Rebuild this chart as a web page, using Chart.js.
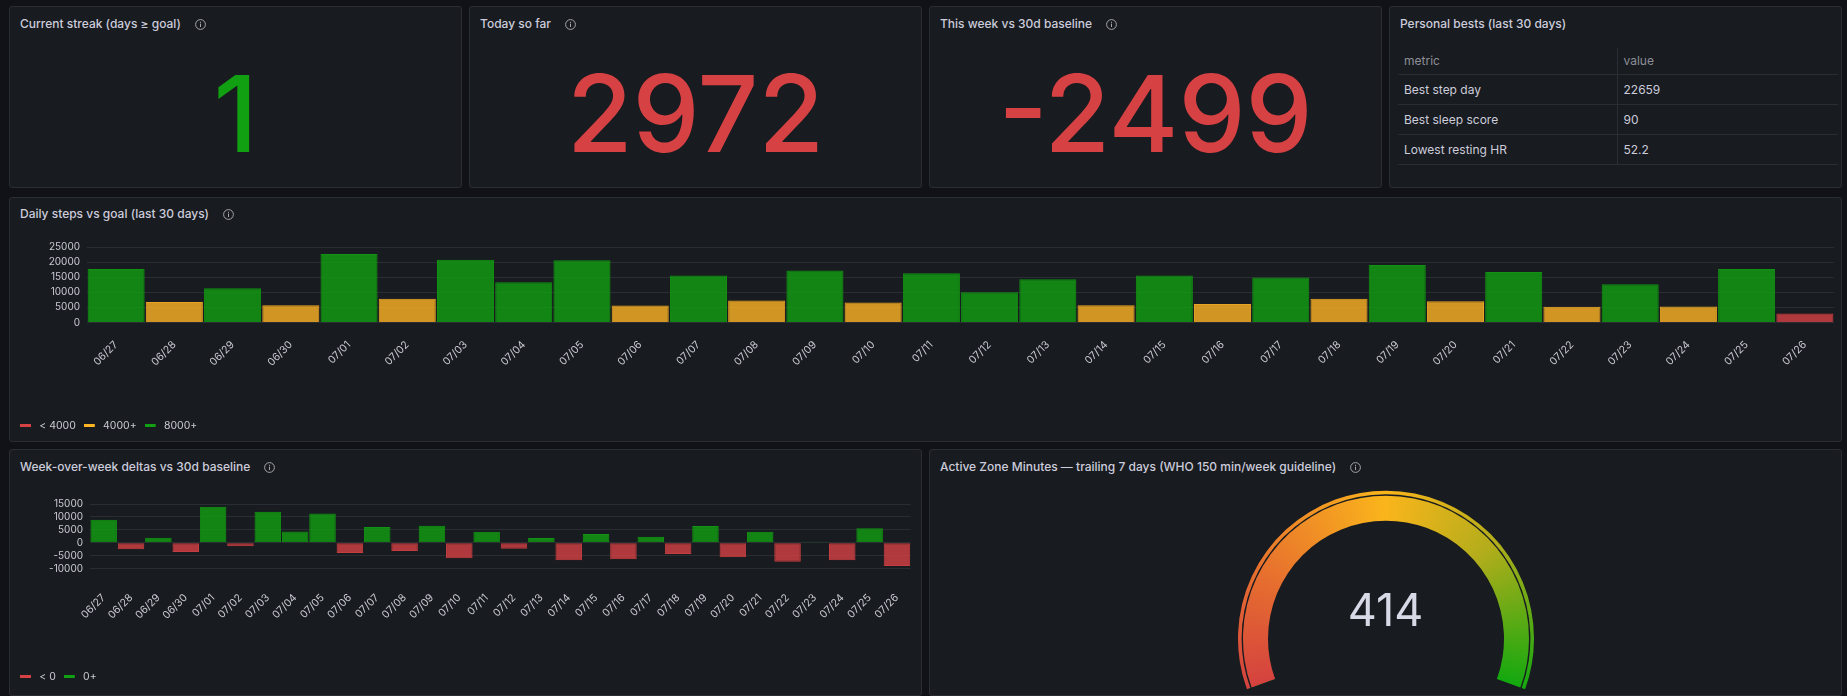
<!DOCTYPE html>
<html>
<head>
<meta charset="utf-8">
<script src="https://cdn.jsdelivr.net/npm/chart.js@4.4.1/dist/chart.umd.min.js"></script>
<style>
  html, body { margin: 0; padding: 0; background: #111217; width: 1847px; height: 696px; overflow: hidden;
    font-family: Inter, "Noto Sans", sans-serif; color: #ccccdc; }
  .panel { position: absolute; background: #181b1f; border: 1px solid #2a2d33; border-radius: 3px; box-sizing: border-box; overflow: hidden; }
  .title { position: absolute; left: 10px; top: 10px; font-size: 12px; font-weight: 500; line-height: 14px;
    white-space: nowrap; display: flex; align-items: center; color: #ccccdc; }
  .title svg { margin-left: 14px; }
  .stat { position: absolute; left: 0; right: 0; top: 54px; text-align: center; font-size: 106.5px; font-weight: 500; line-height: 1; }
  .box { position: absolute; }
  table { position: absolute; left: 8px; top: 41px; width: 440px; border-collapse: collapse; font-size: 12px; }
  th { height: 26px; text-align: left; font-weight: 400; color: #8e8f99; padding: 0 6px; box-sizing: border-box; }
  td { height: 30px; padding: 0 6px; box-sizing: border-box; color: #ccccdc; }
  th, td { border-bottom: 1px solid #2a2d33; }
  th + th, td + td { border-left: 1px solid #2a2d33; }
  #gaugeValue { position: absolute; left: 0; right: 0; top: 137px; text-align: center; font-size: 45px; line-height: 1; color: #d8d9e6; }
</style>
</head>
<body>

<div class="panel" style="left:9px;top:6px;width:453px;height:182px">
  <div class="title">Current streak (days ≥ goal)<svg width="11" height="11" viewBox="0 0 11 11"><circle cx="5.5" cy="5.5" r="4.9" fill="none" stroke="#a4a5ad" stroke-width="1"/><rect x="5" y="4.6" width="1" height="3.4" fill="#a4a5ad"/><rect x="5" y="2.8" width="1" height="1.1" fill="#a4a5ad"/></svg></div>
  <div class="stat" id="statStreak"></div>
</div>
<div class="panel" style="left:469px;top:6px;width:453px;height:182px">
  <div class="title">Today so far<svg width="11" height="11" viewBox="0 0 11 11"><circle cx="5.5" cy="5.5" r="4.9" fill="none" stroke="#a4a5ad" stroke-width="1"/><rect x="5" y="4.6" width="1" height="3.4" fill="#a4a5ad"/><rect x="5" y="2.8" width="1" height="1.1" fill="#a4a5ad"/></svg></div>
  <div class="stat" id="statToday"></div>
</div>
<div class="panel" style="left:929px;top:6px;width:453px;height:182px">
  <div class="title">This week vs 30d baseline<svg width="11" height="11" viewBox="0 0 11 11"><circle cx="5.5" cy="5.5" r="4.9" fill="none" stroke="#a4a5ad" stroke-width="1"/><rect x="5" y="4.6" width="1" height="3.4" fill="#a4a5ad"/><rect x="5" y="2.8" width="1" height="1.1" fill="#a4a5ad"/></svg></div>
  <div class="stat" id="statWeek"></div>
</div>
<div class="panel" style="left:1389px;top:6px;width:453px;height:182px">
  <div class="title">Personal bests (last 30 days)</div>
  <table id="bestTable"><thead><tr><th style="width:219px">metric</th><th>value</th></tr></thead><tbody></tbody></table>
</div>

<div class="panel" style="left:9px;top:197px;width:1833px;height:245px">
  <div class="title" style="top:9px">Daily steps vs goal (last 30 days)<svg width="11" height="11" viewBox="0 0 11 11"><circle cx="5.5" cy="5.5" r="4.9" fill="none" stroke="#a4a5ad" stroke-width="1"/><rect x="5" y="4.6" width="1" height="3.4" fill="#a4a5ad"/><rect x="5" y="2.8" width="1" height="1.1" fill="#a4a5ad"/></svg></div>
  <div class="box" style="left:0;top:31px;width:1831px;height:212px"><canvas id="stepsChart"></canvas></div>
</div>

<div class="panel" style="left:9px;top:449px;width:913px;height:247px">
  <div class="title">Week-over-week deltas vs 30d baseline<svg width="11" height="11" viewBox="0 0 11 11"><circle cx="5.5" cy="5.5" r="4.9" fill="none" stroke="#a4a5ad" stroke-width="1"/><rect x="5" y="4.6" width="1" height="3.4" fill="#a4a5ad"/><rect x="5" y="2.8" width="1" height="1.1" fill="#a4a5ad"/></svg></div>
  <div class="box" style="left:0;top:30px;width:911px;height:212px"><canvas id="deltaChart"></canvas></div>
</div>

<div class="panel" style="left:929px;top:449px;width:913px;height:247px">
  <div class="title">Active Zone Minutes — trailing 7 days (WHO 150 min/week guideline)<svg width="11" height="11" viewBox="0 0 11 11"><circle cx="5.5" cy="5.5" r="4.9" fill="none" stroke="#a4a5ad" stroke-width="1"/><rect x="5" y="4.6" width="1" height="3.4" fill="#a4a5ad"/><rect x="5" y="2.8" width="1" height="1.1" fill="#a4a5ad"/></svg></div>
  <div class="box" style="left:296px;top:40px;width:320px;height:200px"><canvas id="gaugeChart"></canvas></div>
  <div id="gaugeValue"></div>
</div>

<script>
// ---- data ----
var days = ['06/27', '06/28', '06/29', '06/30', '07/01', '07/02', '07/03', '07/04', '07/05', '07/06',
            '07/07', '07/08', '07/09', '07/10', '07/11', '07/12', '07/13', '07/14', '07/15', '07/16',
            '07/17', '07/18', '07/19', '07/20', '07/21', '07/22', '07/23', '07/24', '07/25', '07/26'];
var dailySteps = [17700, 6800, 11300, 5700, 22659, 7900, 20800, 13300, 20600, 5600,
                  15600, 7300, 17200, 6600, 16300, 10000, 14300, 5700, 15600, 6100,
                  14900, 7900, 19000, 7000, 16700, 5200, 12700, 5300, 17700, 2972];
var weekDeltas = [8850, -2500, 1950, -3650, 13900, -1400, 12000, 4300, 11300, -4000,
                  6100, -3250, 6600, -6000, 4200, -2300, 1800, -6800, 3400, -6400,
                  2300, -4400, 6500, -5600, 4200, -7400, 400, -6800, 5600, -9000];
var stepTicks = [0, 5000, 10000, 15000, 20000, 25000];
var deltaTicks = [-10000, -5000, 0, 5000, 10000, 15000];
var stepLegend = ['< 4000', '4000+', '8000+'];
var deltaLegend = ['< 0', '0+'];
var bestMetrics = ['Best step day', 'Best sleep score', 'Lowest resting HR'];
var bestValues = ['22659', '90', '52.2'];
var currentStreak = 1;
var todaySteps = 2972;
var weekVsBaseline = -2499;
var zoneMinutes = 414;
var zoneMin = 0, zoneMax = 150;

// ---- colours ----
var RED = '#d64144', ORANGE = '#ffb423', GREEN = '#11a011';
var TEXT = '#c9cad4', GRID = 'rgba(204,204,220,0.1)';
var gaugeStops = [[0, '#d4423f'], [0.22, '#e7702e'], [0.5, '#fab51b'], [0.72, '#b3ad1b'], [1, '#13a80f']];

function fade(hex, a) {
    var n = parseInt(hex.slice(1), 16);
    return 'rgba(' + (n >> 16) + ',' + ((n >> 8) & 255) + ',' + (n & 255) + ',' + a + ')';
}
function stepColor(v) { return v < 4000 ? RED : (v < 8000 ? ORANGE : GREEN); }
function deltaColor(v) { return v < 0 ? RED : GREEN; }

// small legend swatch: 11x3 bar on a 14px wide image so the label sits a bit further right
function swatch(color) {
    var c = document.createElement('canvas');
    c.width = 14; c.height = 3;
    var g = c.getContext('2d');
    g.fillStyle = color;
    g.fillRect(0, 0, 11, 3);
    return c;
}

// ---- stat + table panels ----
document.getElementById('statStreak').textContent = currentStreak;
document.getElementById('statStreak').style.color = currentStreak >= 1 ? GREEN : RED;
document.getElementById('statToday').textContent = todaySteps;
document.getElementById('statToday').style.color = stepColor(todaySteps);
document.getElementById('statWeek').textContent = weekVsBaseline;
document.getElementById('statWeek').style.color = deltaColor(weekVsBaseline);
document.getElementById('gaugeValue').textContent = zoneMinutes;

var tbody = document.querySelector('#bestTable tbody');
bestMetrics.forEach(function (m, i) {
    var tr = document.createElement('tr');
    tr.innerHTML = '<td>' + m + '</td><td>' + bestValues[i] + '</td>';
    tbody.appendChild(tr);
});

Chart.defaults.font.family = 'Inter, "Noto Sans", sans-serif';
Chart.defaults.color = TEXT;

// shared bar chart options
function barOptions(ticks, legendTexts, legendColors, cfg) {
    return {
        responsive: true,
        maintainAspectRatio: false,
        animation: false,
        events: [],
        layout: { padding: { left: 2, right: 7, top: cfg.top, bottom: 0 } },
        plugins: {
            tooltip: { enabled: false },
            legend: {
                position: 'bottom',
                align: 'start',
                labels: {
                    usePointStyle: true, pointStyleWidth: 14, boxHeight: 3, padding: 8, color: TEXT,
                    font: { size: 10.5 },
                    generateLabels: function () {
                        return legendTexts.map(function (t, i) {
                            return { text: t, fillStyle: legendColors[i], strokeStyle: legendColors[i],
                                     pointStyle: swatch(legendColors[i]), rotation: 0,
                                     fontColor: TEXT, lineWidth: 0, hidden: false };
                        });
                    }
                }
            }
        },
        scales: {
            x: {
                grid: { display: false },
                border: { display: false },
                ticks: { color: TEXT, font: { size: 10.5 }, minRotation: 45, maxRotation: 45, autoSkip: false, padding: cfg.xPad },
                afterFit: function (s) { s.height = cfg.xHeight; }
            },
            y: {
                min: ticks[0],
                max: ticks[ticks.length - 1],
                grid: { color: GRID, drawTicks: false },
                border: { display: false },
                ticks: {
                    stepSize: ticks[1] - ticks[0], autoSkip: false, color: TEXT, font: { size: 10 }, padding: 7,
                    callback: function (v) { return String(v); }
                },
                afterFit: function (s) { s.width = cfg.yWidth; }
            }
        }
    };
}

// Daily steps
new Chart(document.getElementById('stepsChart'), {
    type: 'bar',
    data: {
        labels: days,
        datasets: [{
            data: dailySteps,
            backgroundColor: dailySteps.map(function (v) { return fade(stepColor(v), 0.8); }),
            borderColor: dailySteps.map(function (v) { return fade(stepColor(v), 0.9); }),
            borderWidth: 1,
            barPercentage: 0.98,
            categoryPercentage: 1
        }]
    },
    options: barOptions(stepTicks, stepLegend, [RED, ORANGE, GREEN], { top: 18, xPad: 8, xHeight: 90, yWidth: 75 })
});

// Week-over-week deltas
new Chart(document.getElementById('deltaChart'), {
    type: 'bar',
    data: {
        labels: days,
        datasets: [{
            data: weekDeltas,
            backgroundColor: weekDeltas.map(function (v) { return fade(deltaColor(v), 0.8); }),
            borderColor: weekDeltas.map(function (v) { return fade(deltaColor(v), 0.9); }),
            borderWidth: 1,
            borderSkipped: false,
            barPercentage: 0.97,
            categoryPercentage: 1
        }]
    },
    options: barOptions(deltaTicks, deltaLegend, [RED, GREEN], { top: 24, xPad: 15, xHeight: 95, yWidth: 78 })
});

// Gauge (doughnut arc, 220 degrees)
var gaugeSweep = 220;
function gaugeGradient(c) {
    var chart = c.chart, area = chart.chartArea;
    if (!area) return gaugeStops[0][1];
    var ctrl = chart.getDatasetMeta(c.datasetIndex).controller;
    var cx = (area.left + area.right) / 2 + (ctrl.offsetX || 0);
    var cy = (area.top + area.bottom) / 2 + (ctrl.offsetY || 0);
    var start = (-gaugeSweep / 2 - 90) * Math.PI / 180;
    var g = chart.ctx.createConicGradient(start, cx, cy);
    gaugeStops.forEach(function (s) { g.addColorStop(s[0] * gaugeSweep / 360, s[1]); });
    g.addColorStop(1, gaugeStops[gaugeStops.length - 1][1]);
    return g;
}
function gaugeBandColor(c) {
    return c.dataIndex === 0 ? gaugeGradient(c) : 'rgba(204,204,220,0.1)';
}
var filled = Math.min(zoneMinutes, zoneMax) - zoneMin;
var rest = zoneMax - zoneMin - filled;
new Chart(document.getElementById('gaugeChart'), {
    type: 'doughnut',
    data: {
        datasets: [
            { data: [zoneMax - zoneMin], backgroundColor: gaugeGradient, weight: 3.6 },
            { data: [1], backgroundColor: 'rgba(0,0,0,0)', weight: 1.4 },
            { data: [filled, rest], backgroundColor: gaugeBandColor, weight: 25 }
        ]
    },
    options: {
        responsive: true,
        maintainAspectRatio: false,
        animation: false,
        events: [],
        rotation: -gaugeSweep / 2,
        circumference: gaugeSweep,
        cutout: '79.73%',
        radius: 148,
        borderWidth: 0,
        layout: { padding: 0 },
        plugins: { legend: { display: false }, tooltip: { enabled: false } }
    }
});
</script>
</body>
</html>
